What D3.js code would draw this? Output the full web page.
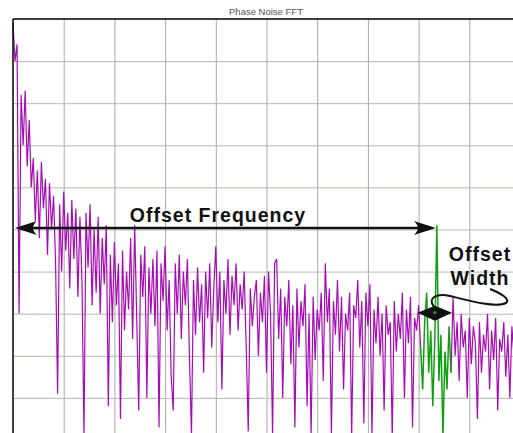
<!DOCTYPE html>
<html>
<head>
<meta charset="utf-8">
<script src="https://cdn.jsdelivr.net/npm/d3@7"></script>
<style>
  body { margin: 0; background: #fff; }
  text { font-family: "Liberation Sans", Arial, sans-serif; }
</style>
</head>
<body>
<script>
// Spektrum (dB), ett värde per bin
var noiseDb = [
  -1, -10, -6, -70, -18, -30, -17, -35, -24, -40,
  -33, -48, -36, -52, -34, -45, -38, -56, -39, -50,
  -42, -58, -89, -44, -60, -41, -55, -46, -64, -43,
  -57, -45, -66, -47, -62, -99, -46, -59, -44, -68,
  -50, -65, -47, -70, -52, -63, -49, -92, -56, -72,
  -53, -68, -58, -95, -55, -74, -60, -69, -52, -76,
  -49, -71, -93, -56, -66, -54, -90, -59, -70, -57,
  -73, -55, -97, -58, -67, -54, -74, -62, -85, -93,
  -58, -70, -56, -76, -60, -68, -57, -80, -99, -62,
  -75, -59, -72, -63, -84, -60, -71, -58, -78, -64,
  -54, -72, -60, -88, -62, -70, -57, -75, -61, -68,
  -58, -74, -63, -69, -60, -78, -98, -64, -73, -66,
  -62, -80, -65, -72, -61, -84, -60, -70, -99, -58,
  -57, -76, -64, -90, -66, -73, -62, -82, -68, -97,
  -64, -78, -67, -73, -63, -92, -70, -99, -66, -81,
  -69, -74, -65, -86, -58, -72, -64, -99, -67, -75,
  -62, -79, -66, -88, -70, -74, -65, -99, -68, -71,
  -62, -78, -67, -96, -65, -73, -63, -99, -69, -77,
  -66, -80, -70, -93, -68, -75, -72, -99, -67, -79,
  -70, -76, -65, -90, -69, -77, -66, -97, -71, -74,
  -68, -78, -88, -72, -65, -84, -74, -92, -76, -49,
  -86, -75, -99, -79, -88, -73, -84, -66, -80, -72,
  -86, -70, -78, -74, -90, -71, -82, -73, -77, -95,
  -72, -84, -75, -79, -70, -88, -74, -81, -71, -93,
  -76, -79, -72, -85, -75, -90, -73, -80, -71, -86,
  -77
];
// Offset-fönstret (grönt) i bin-index
var offsetStart = 201, offsetEnd = 216;
var offsetPeak = 209;
var title = "Phase Noise FFT";
var arrowLabel = "Offset Frequency";
var widthLabel = ["Offset", "Width"];

var width = 513, height = 433;
var plotLeft = 13, plotTop = 19;

var svg = d3.select("body").append("svg").attr("width", width).attr("height", height);

var x = d3.scaleLinear().domain([0, 250]).range([plotLeft, 520]);
var y = d3.scaleLinear().domain([0, -100]).range([plotTop, 440]);

// Rutnät
var grid = svg.append("g");
grid.append("g").attr("transform", "translate(0," + plotTop + ")")
  .call(d3.axisBottom(x).tickValues(d3.range(25, 251, 25)).tickSize(440 - plotTop).tickFormat(""))
  .call(function(g) { g.select(".domain").remove(); g.selectAll("line").attr("stroke", "#a8a8a8"); });
grid.append("g").attr("transform", "translate(" + plotLeft + ",0)")
  .call(d3.axisRight(y).tickValues(d3.range(-10, -100, -10)).tickSize(520 - plotLeft).tickFormat(""))
  .call(function(g) { g.select(".domain").remove(); g.selectAll("line").attr("stroke", "#b8b8b0"); });

// Spektrumlinjer
var line = d3.line().x(function(d) { return x(d[0]); }).y(function(d) { return y(d[1]); });
var pts = noiseDb.map(function(v, i) { return [i, v]; });
svg.append("path").datum(pts.slice(0, offsetStart + 1))
  .attr("d", line).attr("fill", "none").attr("stroke", "#a60cb6").attr("stroke-width", 1.2);
svg.append("path").datum(pts.slice(offsetEnd))
  .attr("d", line).attr("fill", "none").attr("stroke", "#a60cb6").attr("stroke-width", 1.2);
svg.append("path").datum(pts.slice(offsetStart, offsetEnd + 1))
  .attr("d", line).attr("fill", "none").attr("stroke", "#12a012").attr("stroke-width", 1.5);

// Ram
svg.append("line").attr("x1", plotLeft).attr("x2", width).attr("y1", plotTop).attr("y2", plotTop)
  .attr("stroke", "#000").attr("stroke-width", 1.5);
svg.append("line").attr("x1", plotLeft).attr("x2", plotLeft).attr("y1", plotTop).attr("y2", height)
  .attr("stroke", "#000").attr("stroke-width", 1.5);

svg.append("text").attr("x", 266).attr("y", 15).attr("text-anchor", "middle")
  .attr("font-size", 9.5).attr("fill", "#555").text(title);

// Pil för offset-frekvens
var ay = y(-50) - 1.5;
var x0 = plotLeft + 2, x1 = x(offsetPeak) - 1;
svg.append("line").attr("x1", x0 + 8).attr("x2", x1 - 8).attr("y1", ay).attr("y2", ay)
  .attr("stroke", "#111").attr("stroke-width", 2.5);
function head(tx, dir) {
  var p = d3.path();
  p.moveTo(tx, ay);
  p.lineTo(tx + dir * 22, ay - 7);
  p.quadraticCurveTo(tx + dir * 14, ay, tx + dir * 22, ay + 7);
  p.closePath();
  svg.append("path").attr("d", p.toString()).attr("fill", "#111");
}
head(x0, 1);
head(x1, -1);

svg.append("text").attr("x", 218).attr("y", 222).attr("text-anchor", "middle")
  .attr("font-size", 19.5).attr("font-weight", "bold").attr("letter-spacing", 1)
  .attr("fill", "#111").text(arrowLabel);

svg.selectAll("text.wl").data(widthLabel).enter().append("text").attr("class", "wl")
  .attr("x", 480).attr("y", function(d, i) { return 261 + i * 24; })
  .attr("text-anchor", "middle").attr("font-size", 19.5).attr("font-weight", "bold")
  .attr("letter-spacing", 1).attr("fill", "#111").text(function(d) { return d; });

// Krokig linje till bredd-markören
svg.append("path")
  .attr("d", "M490,289 C500,293 511,299 506,303 C496,308 470,301 450,296 C436,293 427,298 434,307")
  .attr("fill", "none").attr("stroke", "#111").attr("stroke-width", 2);

// Bredd-markör (dubbelpil)
var my = y(-70) - 1;
var mx0 = x(offsetStart) - 3, mx1 = x(offsetEnd) + 1, mc = (mx0 + mx1) / 2;
svg.append("path")
  .attr("d", "M" + mx0 + "," + my + " L" + mc + "," + (my - 7) + " L" + mx1 + "," + my +
    " L" + mc + "," + (my + 8) + " Z")
  .attr("fill", "#111");
svg.append("circle").attr("cx", mc).attr("cy", my).attr("r", 1.6).attr("fill", "#12a012");
</script>
</body>
</html>
